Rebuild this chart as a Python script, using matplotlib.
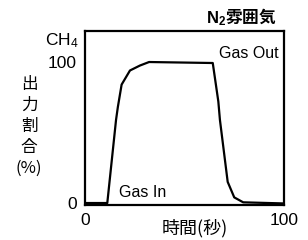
import matplotlib
matplotlib.use('Agg')
import matplotlib.pyplot as plt

plt.rcParams['font.family'] = ['Liberation Sans', 'Noto Sans CJK JP', 'DejaVu Sans']
plt.rcParams['mathtext.fontset'] = 'custom'
plt.rcParams['mathtext.rm'] = 'Liberation Sans'
plt.rcParams['mathtext.it'] = 'Liberation Sans'
plt.rcParams['mathtext.bf'] = 'Liberation Sans:bold'

# time (s) vs CH4 output ratio (%)
time_s = [0, 11.2, 15.6, 16.5, 18.4, 22.6, 27.6, 32.2, 64.2, 67.0, 67.8, 71.7, 75.0, 79.5, 100]
ch4_pct = [0, 0, 59, 68, 84, 94, 97.5, 100, 99.3, 72, 59, 15, 4, 0.5, -0.3]

x_ticks = [0, 100]
y_ticks = [0, 100]
title = '$\\mathbf{N_2}$雰囲気'
x_label = '時間(秒)'
y_label = ['出', '力', '割', '合', '(%)']

fig = plt.figure(figsize=(3.08, 2.4), dpi=100)
ax = fig.add_axes([85/308, 1-205/240, 199/308, 174/240])

ax.plot(time_s, ch4_pct, color='black', lw=1.6)
ax.set_xlim(0, 100)
ax.set_ylim(-1.4, 122)

ax.set_xticks(x_ticks)
ax.set_yticks(y_ticks)
ax.tick_params(length=0, labelsize=12.5, pad=6)
for s in ax.spines.values():
    s.set_linewidth(1.6)

ax.text(67.3, 106, 'Gas Out', fontsize=11.5, va='center', ha='left')
ax.text(17.3, 7.3, 'Gas In', fontsize=11.5, va='center', ha='left')

fig.text(45/308, 1-41/240, 'CH$_4$', fontsize=12.5, va='center', ha='left')
fig.text(206/308, 1-17/240, title, fontsize=12, fontweight='bold',
         ha='left', va='center', family=['Noto Sans CJK JP', 'DejaVu Sans'])
fig.text(195/308, 1-228/240, x_label, fontsize=13, ha='center', va='center',
         family=['Noto Sans CJK JP', 'DejaVu Sans'])

for i, ch in enumerate(y_label):
    fig.text(29/308, 1-(84 + i*21.2)/240, ch, fontsize=12, ha='center', va='center',
             family=['Noto Sans CJK JP', 'DejaVu Sans'])

fig.savefig('out.png', dpi=100)
